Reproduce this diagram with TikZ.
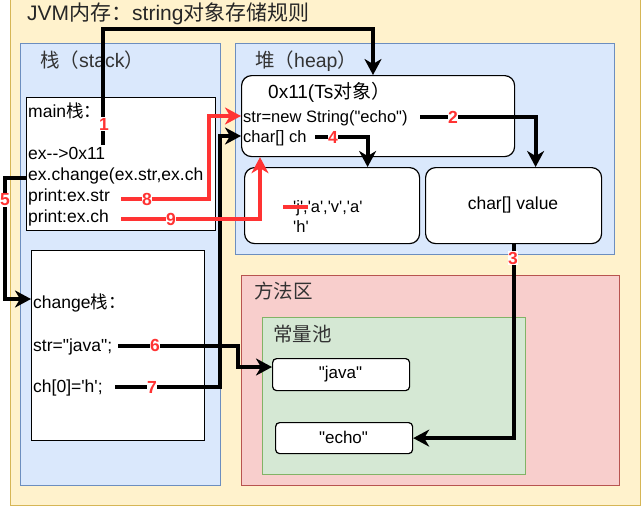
\documentclass[tikz,border=0pt]{standalone}
\usepackage{fontspec}
\newfontfamily\arial{Liberation Sans}
\newfontfamily\cjk{Noto Sans CJK SC}
\usetikzlibrary{arrows.meta}
\definecolor{yelF}{HTML}{FFF2CC}\definecolor{yelD}{HTML}{D6B656}
\definecolor{bluF}{HTML}{DAE8FC}\definecolor{bluD}{HTML}{6C8EBF}
\definecolor{redF}{HTML}{F8CECC}\definecolor{redD}{HTML}{B85450}
\definecolor{grnF}{HTML}{D5E8D4}\definecolor{grnD}{HTML}{82B366}
\definecolor{numred}{HTML}{FF3333}
\definecolor{ttl}{HTML}{333333}
\begin{document}
\begin{tikzpicture}[x=1pt,y=-1pt,
  region/.style={draw, line width=1.3pt, anchor=north west, inner sep=0pt},
  wbox/.style={draw=black, fill=white, line width=1.2pt, anchor=north west, inner sep=0pt},
  rbox/.style={wbox, rounded corners=10pt},
  sbox/.style={wbox, rounded corners=4pt},
  txt/.style={anchor=base west, inner sep=0pt, font=\arial\fontsize{17.5}{21}\selectfont},
  htxt/.style={anchor=base west, inner sep=0pt, font=\arial\fontsize{16.5}{20}\selectfont},
  rlabel/.style={anchor=base west, inner sep=0pt, text=ttl, font=\arial\fontsize{19.5}{22}\selectfont},
  conn/.style={draw=black, line width=3.8pt, -{Stealth[length=16pt,width=17pt,inset=5pt]}},
  redc/.style={conn, draw=numred},
  num/.style={text=numred, fill=white, inner sep=0.6pt, font=\arial\bfseries\fontsize{17.5}{17.5}\selectfont}
]
\useasboundingbox (0,0) rectangle (643,507);
\fill[white] (0,0) rectangle (643,507);

% regions
\node[region, fill=yelF, draw=yelD, minimum width=630pt, minimum height=515pt] (jvm) at (10,-10) {};
\node[anchor=base west, inner sep=0pt, text=black!85, font=\arial\fontsize{21}{24}\selectfont] (title) at (27,20) {JVM{\cjk 内存：}string{\cjk 对象存储规则}};
\node[region, fill=bluF, draw=bluD, minimum width=200pt, minimum height=442pt] (stack) at (20,43) {};
\node[rlabel] (stacklbl) at (40,67) {{\cjk 栈（}stack{\cjk ）}};
\node[region, fill=bluF, draw=bluD, minimum width=379pt, minimum height=211pt] (heap) at (235,43) {};
\node[rlabel] (heaplbl) at (255,67) {{\cjk 堆（}heap{\cjk ）}};
\node[region, fill=redF, draw=redD, minimum width=378pt, minimum height=210pt] (method) at (241,275) {};
\node[rlabel] (methodlbl) at (254,298) {\cjk 方法区};
\node[region, fill=grnF, draw=grnD, minimum width=263pt, minimum height=157pt] (pool) at (262,317) {};
\node[rlabel] (poollbl) at (273,341) {\cjk 常量池};

% boxes
\node[wbox, minimum width=189pt, minimum height=133pt] (mainbox) at (26,97) {};
\node[txt] (m1) at (28,117) {main{\cjk 栈：}};
\node[txt] (m2) at (28,159) {ex-{}->0x11};
\node[txt] (m3) at (28,180) {ex.change(ex.str,ex.ch};
\node[txt] (m4) at (28,201) {print:ex.str};
\node[txt] (m5) at (28,222) {print:ex.ch};

\node[wbox, minimum width=173pt, minimum height=190pt] (changebox) at (31,250) {};
\node[txt] (c1) at (33,308) {change{\cjk 栈：}};
\node[txt] (c2) at (33,351) {str="java";};
\node[txt] (c3) at (33,392) {ch[0]='h';};

\node[rbox, minimum width=273pt, minimum height=81pt] (obj) at (241,75) {};
\node[anchor=base west, inner sep=0pt, font=\arial\fontsize{19}{22}\selectfont] (objlbl) at (268,98) {0x11(Ts{\cjk 对象）}};
\node[htxt] (o1) at (243,122) {str=new String("echo")};
\node[htxt] (o2) at (243,142) {char[] ch};

\node[rbox, minimum width=175pt, minimum height=76pt] (chararr) at (244,167) {};
\node[htxt] (a1) at (293,212) {'j','a','v','a'};
\node[htxt] (a2) at (293,232) {'h'};
\draw[numred, line width=3.5pt] (283,207) -- (308,207);

\node[rbox, minimum width=176pt, minimum height=76pt] (charval) at (425,167) {};
\node[font=\arial\fontsize{17.5}{21}\selectfont, inner sep=0pt] (cvl) at (513,205) {char[] value};

\node[sbox, minimum width=137pt, minimum height=32pt] (java) at (272,358) {};
\node[font=\arial\fontsize{17}{20}\selectfont, inner sep=0pt] (javal) at (340.5,374) {"java"};
\node[sbox, minimum width=137pt, minimum height=31pt] (echo) at (275,422) {};
\node[font=\arial\fontsize{17}{20}\selectfont, inner sep=0pt] (echol) at (343.5,437.5) {"echo"};

% connector end points
\coordinate (s1) at (103,145);
\coordinate (k1) at (373,29);
\coordinate (s2) at (420,117);
\coordinate (s4) at (315,137);
\coordinate (s5) at (26,178);
\coordinate (t5) at (changebox.west |- 0,299);
\coordinate (s6) at (118,346);
\coordinate (t6) at (java.west |- 0,367);
\coordinate (s7) at (115,387);
\coordinate (t7) at (obj.west |- 0,136);
\coordinate (s8) at (121,199);
\coordinate (t8) at (obj.west |- 0,116);
\coordinate (s9) at (121,219);
\coordinate (t9) at (obj.south -| 260,0);

% connectors
\draw[conn] (s1) |- (k1) -- (k1 |- obj.north);
\draw[conn] (s2) -| ([xshift=22pt]charval.north);
\draw[conn] (charval.south) |- (echo.east);
\draw[conn] (s4) -| ([xshift=35.5pt]chararr.north);
\draw[conn] (s5) -- ++(-21,0) |- (t5);
\draw[conn] (s6) -- ++(120,0) |- (t6);
\draw[conn] (s7) -- ++(105,0) |- (t7);
\draw[redc] (s8) -- ++(88,0) |- (t8);
\draw[redc] (s9) -| (t9);

% labels
\node[num] (n1) at (104,124) {1};
\node[num] (n2) at (453,117) {2};
\node[num] (n3) at (513,258) {3};
\node[num] (n4) at (333,137) {4};
\node[num] (n5) at (5,200) {5};
\node[num] (n6) at (155,345) {6};
\node[num] (n7) at (152,387) {7};
\node[num] (n8) at (147,199) {8};
\node[num] (n9) at (171,219) {9};
\end{tikzpicture}
\end{document}
